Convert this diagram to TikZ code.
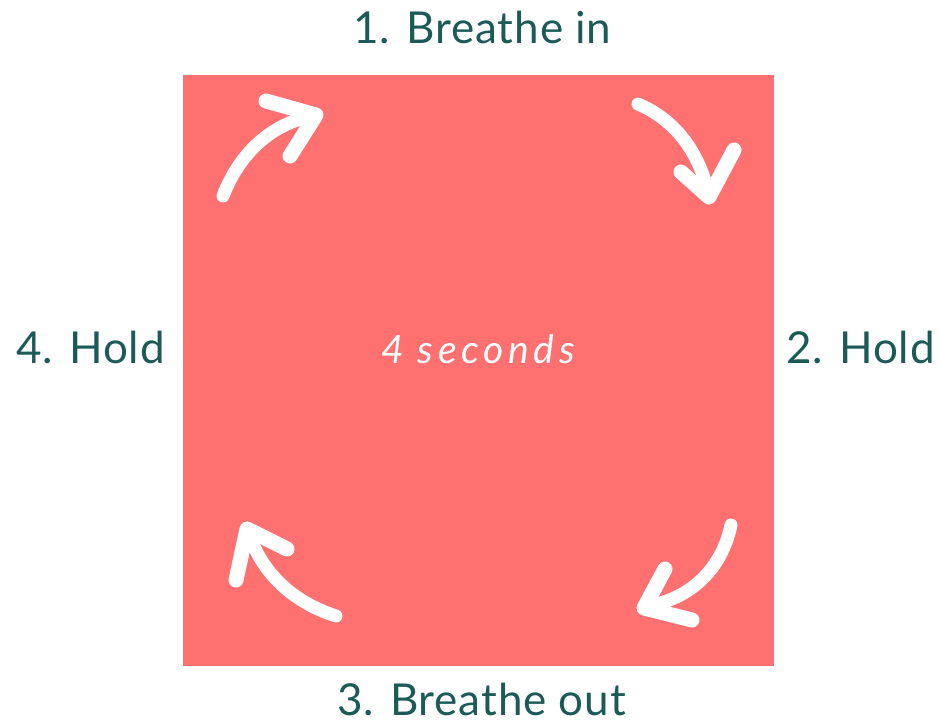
\documentclass[tikz,border=0pt]{standalone}
\usepackage{fontspec}
\setmainfont{Lato}
\usepackage{tikz}
\usetikzlibrary{positioning}
\definecolor{boxred}{RGB}{255,112,112}
\definecolor{tealtxt}{RGB}{28,90,88}

\begin{document}
\begin{tikzpicture}[x=1pt,y=-1pt,
  lab/.style={font=\fontsize{44}{48}\selectfont\addfontfeature{LetterSpace=2},text=tealtxt,inner sep=0pt,anchor=base},
  note/.style={font=\fontsize{39}{42}\selectfont\itshape\addfontfeature{LetterSpace=12},text=white,inner sep=0pt,anchor=base},
  brush/.style={white,line width=13pt,line cap=round},
  brushhead/.style={white,line width=15pt,line join=round,line cap=round}]
  \useasboundingbox (0,0) rectangle (940,723);
  \node[fill=boxred,minimum size=591pt,inner sep=0pt] (sq) at (478,370) {};
  \node[lab] (in) at (482.5,43) {1. Breathe in};
  \node[lab] (hr) at (860.5,363) {2. Hold};
  \node[lab] (out) at (481.5,715) {3. Breathe out};
  \node[lab] (hl) at (90.5,363) {4. Hold};
  \node[note] (sec) at (478,363) {4 seconds};
  % arrows
  \draw[brush] (223,196) .. controls (240,152) and (272,124) .. (312,116);
  \draw[brushhead] (266,101) -- (316,115) -- (290,156);
  \draw[brush] (638,104) .. controls (680,122) and (700,158) .. (708,192);
  \draw[brushhead] (681,172) -- (709,197) -- (734,150);
  \draw[brush] (731,525) .. controls (722,568) and (692,598) .. (648,606);
  \draw[brushhead] (665,569) -- (644,608) -- (692,620);
  \draw[brush] (336,616) .. controls (292,602) and (262,572) .. (250,536);
  \draw[brushhead] (287,549) -- (247,529) -- (236,580);
\end{tikzpicture}
\end{document}
